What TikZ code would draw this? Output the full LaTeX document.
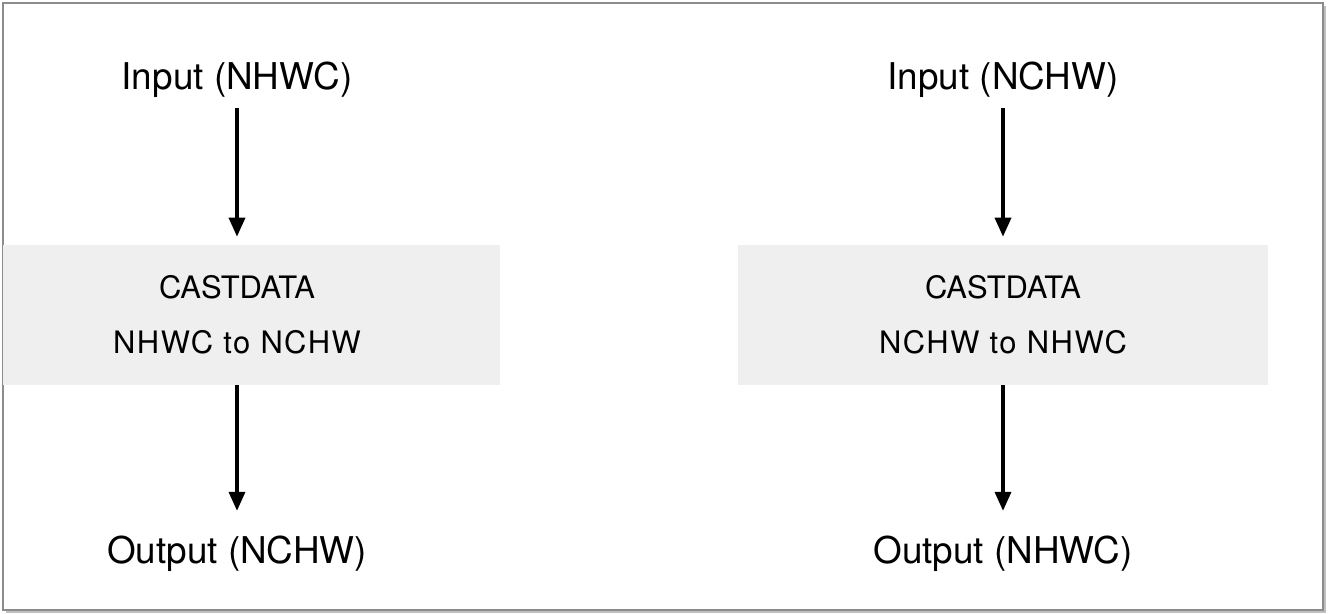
\documentclass[tikz,border=0pt]{standalone}
\usepackage{fontspec}
\setmainfont{TeX Gyre Heros}
\usetikzlibrary{calc,arrows.meta}
\definecolor{boxgray}{HTML}{EFEFEF}

\begin{document}
\begin{tikzpicture}[x=0.02cm,y=-0.02cm,
        lbl/.style={font=\fontsize{21}{24}\selectfont,inner sep=2pt},
        op/.style={font=\fontsize{17.6}{21}\selectfont,inner sep=0pt},
        wide/.style={font=\fontsize{17.6}{21}\selectfont\addfontfeatures{LetterSpace=5}},
        castbox/.style={fill=boxgray,minimum height=2.8cm,inner sep=0pt},
        >={Triangle[width=0.32cm,length=0.38cm]}]
        \useasboundingbox (0,0) rectangle (1330,614);
        % frame
        \fill[black!25] (6,6) rectangle (1326,613);
        \draw[black!45,fill=white,line width=0.6pt] (3,3) rectangle (1323,610);

        % NHWC -> NCHW
        \node[lbl] (inL) at (237,80) {Input (NHWC)};
        \node[castbox,minimum width=9.94cm] (boxL) at (251.5,315) {};
        \node[op] (castL) at (237,287) {CASTDATA};
        \node[op,wide] (convL) at (237,342) {NHWC to NCHW};
        \node[lbl] (outL) at (237,554) {Output (NCHW)};

        % NCHW -> NHWC
        \node[lbl] (inR) at (1003,80) {Input (NCHW)};
        \node[castbox,minimum width=10.6cm] (boxR) at (1003,315) {};
        \node[op] (castR) at (1003,287) {CASTDATA};
        \node[op,wide] (convR) at (1003,342) {NCHW to NHWC};
        \node[lbl] (outR) at (1003,554) {Output (NHWC)};

        \path[->,line width=2pt]
        (inL) edge[shorten <=0.13cm,shorten >=0.16cm] (inL |- boxL.north)
        (boxL.south -| outL) edge[shorten >=0.43cm] (outL)
        (inR) edge[shorten <=0.13cm,shorten >=0.16cm] (boxR.north)
        (boxR.south) edge[shorten >=0.43cm] (outR);
\end{tikzpicture}
\end{document}
